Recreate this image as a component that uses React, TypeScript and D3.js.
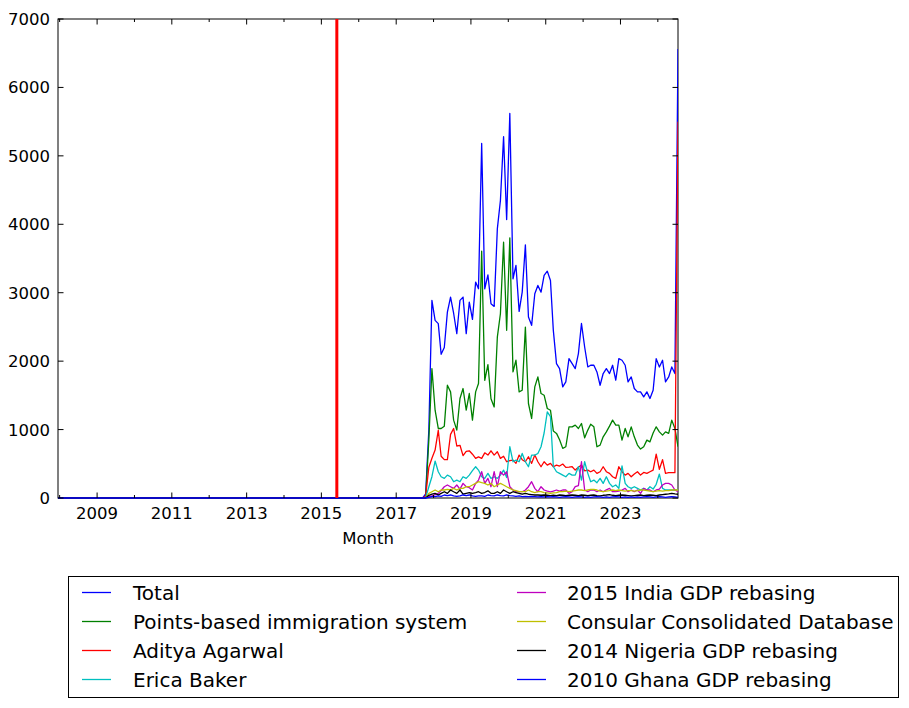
import React from "react";
import * as d3 from "d3";

// ---- data (monthly, values) ----
const FIRST_MONTH = "2007-12";
const DATA_START_MONTH = "2017-10";
const LAST_MONTH = "2024-07";
const EVENT_DATE = "2015-06-01";

const SERIES_NAMES = [
  "Total",
  "Points-based immigration system",
  "Aditya Agarwal",
  "Erica Baker",
  "2015 India GDP rebasing",
  "Consular Consolidated Database",
  "2014 Nigeria GDP rebasing",
  "2010 Ghana GDP rebasing",
];
const SERIES_COLORS = ["#0000ff", "#008000", "#ff0000", "#00bfbf", "#bf00bf", "#bfbf00", "#000000", "#0000ff"];

// values from 2017-10 to 2024-07 (earlier months are zero)
const TOTAL = [60, 1000, 2888, 2596, 2548, 2100, 2200, 2717, 2936, 2700, 2401, 2888, 2936, 2401, 2863, 2610, 3155, 3058, 5182, 3058, 3262, 2839, 2800, 3933, 4346, 5280, 4069, 5619, 3204, 3398, 2727, 3009, 3699, 2644, 2523, 2985, 3106, 3009, 3252, 3315, 3179, 2450, 1964, 1891, 1624, 1697, 2037, 1964, 1891, 2110, 2550, 2207, 1915, 1940, 1940, 1842, 1648, 1819, 1891, 1819, 1940, 1721, 2037, 2013, 1940, 1697, 1769, 1600, 1551, 1551, 1478, 1551, 1454, 1575, 2037, 1915, 2013, 1697, 1769, 1915, 1819, 6560];
const POINTS_BASED = [10, 850, 1891, 1283, 1016, 1016, 1050, 1648, 1551, 1138, 992, 1454, 1600, 1283, 1527, 1138, 1551, 1673, 3607, 1720, 1950, 1450, 1330, 2350, 2693, 3738, 2450, 3802, 1842, 2013, 1551, 1575, 2498, 1381, 1162, 1624, 1769, 1527, 1502, 1308, 1283, 980, 944, 850, 725, 749, 1040, 1040, 1065, 1016, 1089, 880, 992, 1079, 1040, 749, 773, 894, 967, 1050, 1138, 1065, 1065, 846, 1016, 894, 1040, 894, 773, 715, 749, 846, 821, 950, 1040, 967, 919, 967, 945, 1138, 1016, 749];
const ADITYA = [30, 450, 580, 700, 990, 610, 560, 560, 930, 1016, 760, 770, 620, 680, 690, 640, 580, 600, 580, 660, 627, 690, 627, 676, 579, 610, 530, 545, 554, 506, 627, 560, 530, 603, 506, 627, 530, 457, 530, 481, 506, 457, 481, 467, 496, 447, 450, 457, 408, 450, 481, 398, 408, 384, 408, 360, 384, 457, 384, 360, 311, 287, 457, 384, 335, 360, 311, 350, 384, 335, 374, 360, 384, 408, 640, 420, 560, 360, 370, 370, 370, 5500];
const ERICA = [5, 165, 311, 540, 384, 311, 287, 335, 311, 238, 262, 238, 311, 287, 335, 400, 457, 408, 311, 287, 360, 287, 311, 287, 335, 408, 300, 749, 530, 554, 530, 651, 530, 457, 627, 627, 651, 749, 950, 1259, 1190, 460, 384, 360, 335, 311, 360, 335, 335, 457, 262, 530, 360, 238, 262, 223, 287, 214, 311, 214, 165, 190, 141, 470, 214, 165, 141, 165, 141, 117, 141, 117, 165, 130, 200, 350, 141, 117, 117, 117, 117, 120];
const INDIA = [0, 20, 30, 50, 68, 110, 165, 190, 165, 141, 190, 130, 214, 165, 150, 117, 214, 262, 384, 214, 287, 165, 384, 165, 384, 335, 384, 165, 117, 92, 92, 92, 117, 165, 238, 141, 92, 165, 117, 100, 90, 100, 117, 100, 117, 117, 68, 92, 165, 180, 530, 117, 92, 117, 117, 92, 117, 92, 120, 141, 92, 92, 100, 117, 141, 92, 117, 92, 117, 68, 141, 117, 117, 92, 117, 130, 190, 214, 214, 190, 117, 92];
const CONSULAR = [0, 68, 92, 117, 92, 117, 117, 125, 117, 141, 117, 141, 141, 165, 165, 190, 214, 238, 225, 214, 190, 214, 165, 190, 214, 190, 165, 141, 117, 108, 92, 92, 92, 117, 92, 80, 92, 92, 80, 75, 68, 75, 80, 92, 92, 100, 92, 100, 108, 117, 117, 108, 117, 125, 125, 117, 100, 92, 100, 108, 117, 108, 117, 108, 100, 108, 108, 100, 108, 117, 117, 108, 100, 92, 100, 108, 100, 108, 108, 117, 117, 117];
const NIGERIA = [0, 40, 55, 68, 44, 68, 92, 68, 117, 92, 68, 117, 55, 68, 80, 68, 80, 92, 68, 80, 105, 68, 68, 92, 68, 117, 92, 68, 92, 80, 68, 55, 68, 55, 50, 44, 44, 40, 44, 40, 35, 40, 35, 44, 40, 35, 40, 44, 40, 35, 44, 40, 35, 40, 44, 35, 30, 40, 44, 50, 40, 35, 40, 44, 40, 35, 30, 35, 40, 44, 35, 40, 44, 40, 35, 44, 50, 55, 60, 68, 60, 55];
const GHANA = [0, 10, 20, 20, 30, 25, 44, 35, 44, 30, 25, 30, 44, 35, 44, 30, 25, 30, 30, 25, 44, 35, 30, 44, 35, 30, 44, 35, 30, 25, 30, 20, 25, 20, 25, 20, 15, 20, 15, 20, 15, 20, 15, 10, 15, 20, 15, 10, 15, 20, 15, 10, 15, 10, 15, 20, 15, 10, 15, 10, 15, 20, 15, 10, 15, 10, 15, 10, 15, 10, 15, 20, 15, 10, 15, 20, 15, 10, 15, 20, 15, 10];

const SERIES_VALUES = [TOTAL, POINTS_BASED, ADITYA, ERICA, INDIA, CONSULAR, NIGERIA, GHANA];

const Y_TICKS = [0, 1000, 2000, 3000, 4000, 5000, 6000, 7000];
const X_LABEL_YEARS = [2009, 2011, 2013, 2015, 2017, 2019, 2021, 2023];
const X_MINOR_YEARS = [2008, 2010, 2012, 2014, 2016, 2018, 2020, 2022, 2024];
const X_LABEL = "Month";

// ---- layout ----
const W = 909;
const H = 708;
const PL = 58, PR = 678, PT = 19, PB = 498;
const FONT = "DejaVu Sans, sans-serif";

export default function App() {
  const parse = d3.utcParse("%Y-%m");
  const first = parse(FIRST_MONTH)!;
  const last = parse(LAST_MONTH)!;
  const dataStart = parse(DATA_START_MONTH)!;
  const months = d3.utcMonth.range(first, d3.utcMonth.offset(last, 1));
  const dates = months.map((m) => d3.utcDay.offset(m, 15));
  const nZeros = d3.utcMonth.count(first, dataStart);

  const x = d3.scaleUtc().domain([dates[0], dates[dates.length - 1]]).range([PL, PR]);
  const y = d3.scaleLinear().domain([0, 7000]).range([PB, PT]);

  const line = d3
    .line<number>()
    .x((_, i) => x(dates[i]))
    .y((d) => y(d));

  const full = SERIES_VALUES.map((vals) => new Array(nZeros).fill(0).concat(vals));
  const eventX = x(d3.utcParse("%Y-%m-%d")(EVENT_DATE)!);

  const majorLen = 5.5;
  const minorLen = 3;

  const legendRows = 4;
  const legendX = [82, 517];
  const legendTextX = [133, 567];
  const legendY0 = 592.5;
  const legendDy = 29;

  return (
    <svg width={W} height={H} style={{ position: "absolute", left: 0, top: 0, background: "#fff" }} fontFamily={FONT}>
      <rect x={0} y={0} width={W} height={H} fill="#fff" />
      <defs>
        <clipPath id="plotclip">
          <rect x={PL} y={PT} width={PR - PL} height={PB - PT + 1.2} />
        </clipPath>
      </defs>
      {/* frame */}
      <rect x={PL} y={PT} width={PR - PL} height={PB - PT} fill="none" stroke="#000" strokeWidth={1} />
      <g clipPath="url(#plotclip)">
        {full.map((vals, si) => (
          <path key={si} d={line(vals) || ""} fill="none" stroke={SERIES_COLORS[si]} strokeWidth={1.3} strokeLinejoin="round" />
        ))}
        <line x1={eventX} x2={eventX} y1={PT} y2={PB} stroke="#ff0000" strokeWidth={3} />
      </g>
      {/* y ticks */}
      {Y_TICKS.map((t) => (
        <g key={"y" + t}>
          <line x1={PL} x2={PL + majorLen} y1={y(t)} y2={y(t)} stroke="#000" />
          <line x1={PR} x2={PR - majorLen} y1={y(t)} y2={y(t)} stroke="#000" />
          <text x={PL - 8} y={y(t)} dy="0.36em" textAnchor="end" fontSize={16.5} fill="#000">
            {t}
          </text>
        </g>
      ))}
      {/* x ticks */}
      {X_LABEL_YEARS.map((yr) => {
        const xx = x(new Date(Date.UTC(yr, 0, 1)));
        return (
          <g key={"x" + yr}>
            <line x1={xx} x2={xx} y1={PB} y2={PB - majorLen} stroke="#000" />
            <line x1={xx} x2={xx} y1={PT} y2={PT + majorLen} stroke="#000" />
            <text x={xx} y={513} dy="0.36em" textAnchor="middle" fontSize={16.5} fill="#000">
              {yr}
            </text>
          </g>
        );
      })}
      {X_MINOR_YEARS.map((yr) => {
        const xx = x(new Date(Date.UTC(yr, 0, 1)));
        return (
          <g key={"xm" + yr}>
            <line x1={xx} x2={xx} y1={PB} y2={PB - minorLen} stroke="#000" />
            <line x1={xx} x2={xx} y1={PT} y2={PT + minorLen} stroke="#000" />
          </g>
        );
      })}
      <text x={(PL + PR) / 2} y={538} dy="0.36em" textAnchor="middle" fontSize={16.5} fill="#000">
        {X_LABEL}
      </text>
      {/* legend */}
      <rect x={68.5} y={576.5} width={830} height={121} fill="#fff" stroke="#000" strokeWidth={1} />
      {SERIES_NAMES.map((name, i) => {
        const col = Math.floor(i / legendRows);
        const row = i % legendRows;
        const yy = legendY0 + row * legendDy;
        return (
          <g key={"lg" + i}>
            <line x1={legendX[col]} x2={legendX[col] + 29} y1={yy} y2={yy} stroke={SERIES_COLORS[i]} strokeWidth={1.3} />
            <text x={legendTextX[col]} y={yy} dy="0.36em" fontSize={20} fill="#000">
              {name}
            </text>
          </g>
        );
      })}
    </svg>
  );
}
